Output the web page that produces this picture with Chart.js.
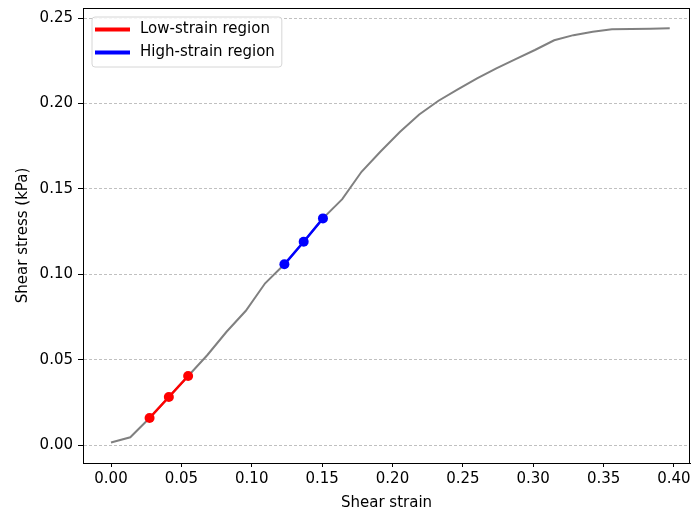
<!DOCTYPE html>
<html>
<head>
<meta charset="utf-8">
<script src="https://cdn.jsdelivr.net/npm/chart.js@4.4.1/dist/chart.umd.min.js"></script>
<style>
  html, body { margin: 0; padding: 0; background: #ffffff; }
  #wrap { width: 691px; height: 512px; position: relative; }
</style>
</head>
<body>
<div id="wrap"><canvas id="c" width="691" height="512"></canvas></div>
<script>
// Full stress-strain curve (gray)
const strain = [0.0000, 0.0137, 0.0274, 0.0411, 0.0548, 0.0685, 0.0821, 0.0958, 0.1095, 0.1232,
                0.1369, 0.1506, 0.1643, 0.1780, 0.1917, 0.2054, 0.2190, 0.2327, 0.2464, 0.2601,
                0.2738, 0.2875, 0.3012, 0.3149, 0.3286, 0.3423, 0.3559, 0.3696, 0.3833, 0.3970];
const stress = [0.0015, 0.0045, 0.0158, 0.0281, 0.0404, 0.0527, 0.0663, 0.0786, 0.0947, 0.1058,
                0.1190, 0.1327, 0.1440, 0.1600, 0.1720, 0.1834, 0.1935, 0.2016, 0.2082, 0.2147,
                0.2206, 0.2260, 0.2313, 0.2370, 0.2400, 0.2420, 0.2434, 0.2436, 0.2438, 0.2440];

// Low-strain region (red)
const lowStrain = [0.0274, 0.0411, 0.0548];
const lowStress = [0.0158, 0.0281, 0.0404];

// High-strain region (blue)
const highStrain = [0.1232, 0.1369, 0.1506];
const highStress = [0.1058, 0.1190, 0.1327];

// Tick labels
const xTicks = [0.00, 0.05, 0.10, 0.15, 0.20, 0.25, 0.30, 0.35, 0.40];
const yTicks = [0.00, 0.05, 0.10, 0.15, 0.20, 0.25];

const seriesLabels = ['Low-strain region', 'High-strain region'];
const xTitle = 'Shear strain';
const yTitle = 'Shear stress (kPa)';

const pts = (xs, ys) => xs.map((x, i) => ({ x: x, y: ys[i] }));

const FONT = 'DejaVu Sans';
const FS = 15;

const framePlugin = {
  id: 'frame',
  afterDraw(chart) {
    const { ctx, chartArea: a } = chart;
    ctx.save();
    ctx.strokeStyle = '#000';
    ctx.lineWidth = 1;
    ctx.strokeRect(Math.round(a.left) + 0.5, Math.round(a.top) + 0.5,
                   Math.round(a.right - a.left) - 1, Math.round(a.bottom - a.top));
    ctx.restore();
  }
};

const legendPlugin = {
  id: 'mplLegend',
  afterDraw(chart) {
    const { ctx, chartArea: a } = chart;
    const items = chart.data.datasets.filter(d => d.showInLegend);
    ctx.save();
    ctx.font = FS + 'px "' + FONT + '"';
    let maxW = 0;
    items.forEach(d => { maxW = Math.max(maxW, ctx.measureText(d.label).width); });
    const x0 = a.left + 9, y0 = a.top + 9;
    const w = 48 + maxW + 7, h = 50;
    ctx.beginPath();
    const r = 3;
    ctx.moveTo(x0 + r, y0);
    ctx.lineTo(x0 + w - r, y0); ctx.quadraticCurveTo(x0 + w, y0, x0 + w, y0 + r);
    ctx.lineTo(x0 + w, y0 + h - r); ctx.quadraticCurveTo(x0 + w, y0 + h, x0 + w - r, y0 + h);
    ctx.lineTo(x0 + r, y0 + h); ctx.quadraticCurveTo(x0, y0 + h, x0, y0 + h - r);
    ctx.lineTo(x0, y0 + r); ctx.quadraticCurveTo(x0, y0, x0 + r, y0);
    ctx.closePath();
    ctx.fillStyle = 'rgba(255,255,255,0.85)';
    ctx.fill();
    ctx.strokeStyle = '#d6d6d6';
    ctx.lineWidth = 1;
    ctx.stroke();
    items.forEach((d, i) => {
      const yc = y0 + 12.5 + i * 23;
      ctx.beginPath();
      ctx.strokeStyle = d.borderColor;
      ctx.lineWidth = 4;
      ctx.moveTo(x0 + 3, yc); ctx.lineTo(x0 + 38, yc);
      ctx.stroke();
      ctx.fillStyle = '#000';
      ctx.textBaseline = 'middle';
      ctx.textAlign = 'left';
      ctx.fillText(d.label, x0 + 48, yc);
    });
    ctx.restore();
  }
};

new Chart(document.getElementById('c'), {
  type: 'scatter',
  data: {
    datasets: [
      {
        label: seriesLabels[0], showInLegend: true,
        data: pts(lowStrain, lowStress), showLine: true,
        borderColor: '#ff0000', backgroundColor: '#ff0000', borderWidth: 2.5,
        pointRadius: 5, pointHoverRadius: 5, pointBorderWidth: 0, pointBackgroundColor: '#ff0000'
      },
      {
        label: seriesLabels[1], showInLegend: true,
        data: pts(highStrain, highStress), showLine: true,
        borderColor: '#0000ff', backgroundColor: '#0000ff', borderWidth: 2.5,
        pointRadius: 5, pointHoverRadius: 5, pointBorderWidth: 0, pointBackgroundColor: '#0000ff'
      },
      {
        label: 'Curve', showInLegend: false,
        data: pts(strain, stress), showLine: true,
        borderColor: '#808080', backgroundColor: '#808080', borderWidth: 2,
        pointRadius: 0, pointHoverRadius: 0, tension: 0
      }
    ]
  },
  options: {
    responsive: false,
    animation: false,
    devicePixelRatio: 1,
    layout: { autoPadding: false, padding: { top: 8, right: 1, left: 0, bottom: 0 } },
    plugins: { legend: { display: false }, tooltip: { enabled: false } },
    scales: {
      x: {
        type: 'linear',
        min: -0.0199, max: 0.4114,
        afterBuildTicks: s => { s.ticks = xTicks.map(v => ({ value: v })); },
        afterFit: s => { s.height = 49; s.paddingLeft = 0; s.paddingRight = 0; },
        grid: { drawOnChartArea: false, drawTicks: true, tickLength: 4, tickColor: '#000', tickWidth: 1 },
        border: { display: true, color: '#000', width: 1 },
        ticks: {
          color: '#000', font: { family: FONT, size: FS }, padding: 3, maxRotation: 0,
          autoSkip: false, callback: v => v.toFixed(2)
        },
        title: { display: true, text: xTitle, color: '#000', font: { family: FONT, size: FS }, padding: { top: 0, bottom: 0 } }
      },
      y: {
        type: 'linear',
        min: -0.01054, max: 0.2559,
        afterBuildTicks: s => { s.ticks = yTicks.map(v => ({ value: v })); },
        afterFit: s => { s.width = 83; s.paddingTop = 0; s.paddingBottom = 0; },
        grid: {
          drawOnChartArea: true, drawTicks: true, tickLength: 5, color: '#b0b0b0', lineWidth: 0.8,
          tickColor: '#000', tickWidth: 1, tickBorderDash: []
        },
        border: { display: true, color: '#000', width: 1, dash: [3, 2] },
        ticks: {
          color: '#000', font: { family: FONT, size: FS }, padding: 5,
          autoSkip: false, callback: v => v.toFixed(2)
        },
        title: { display: true, text: yTitle, color: '#000', font: { family: FONT, size: FS }, padding: { top: 14, bottom: 0 } }
      }
    }
  },
  plugins: [framePlugin, legendPlugin]
});
</script>
</body>
</html>
